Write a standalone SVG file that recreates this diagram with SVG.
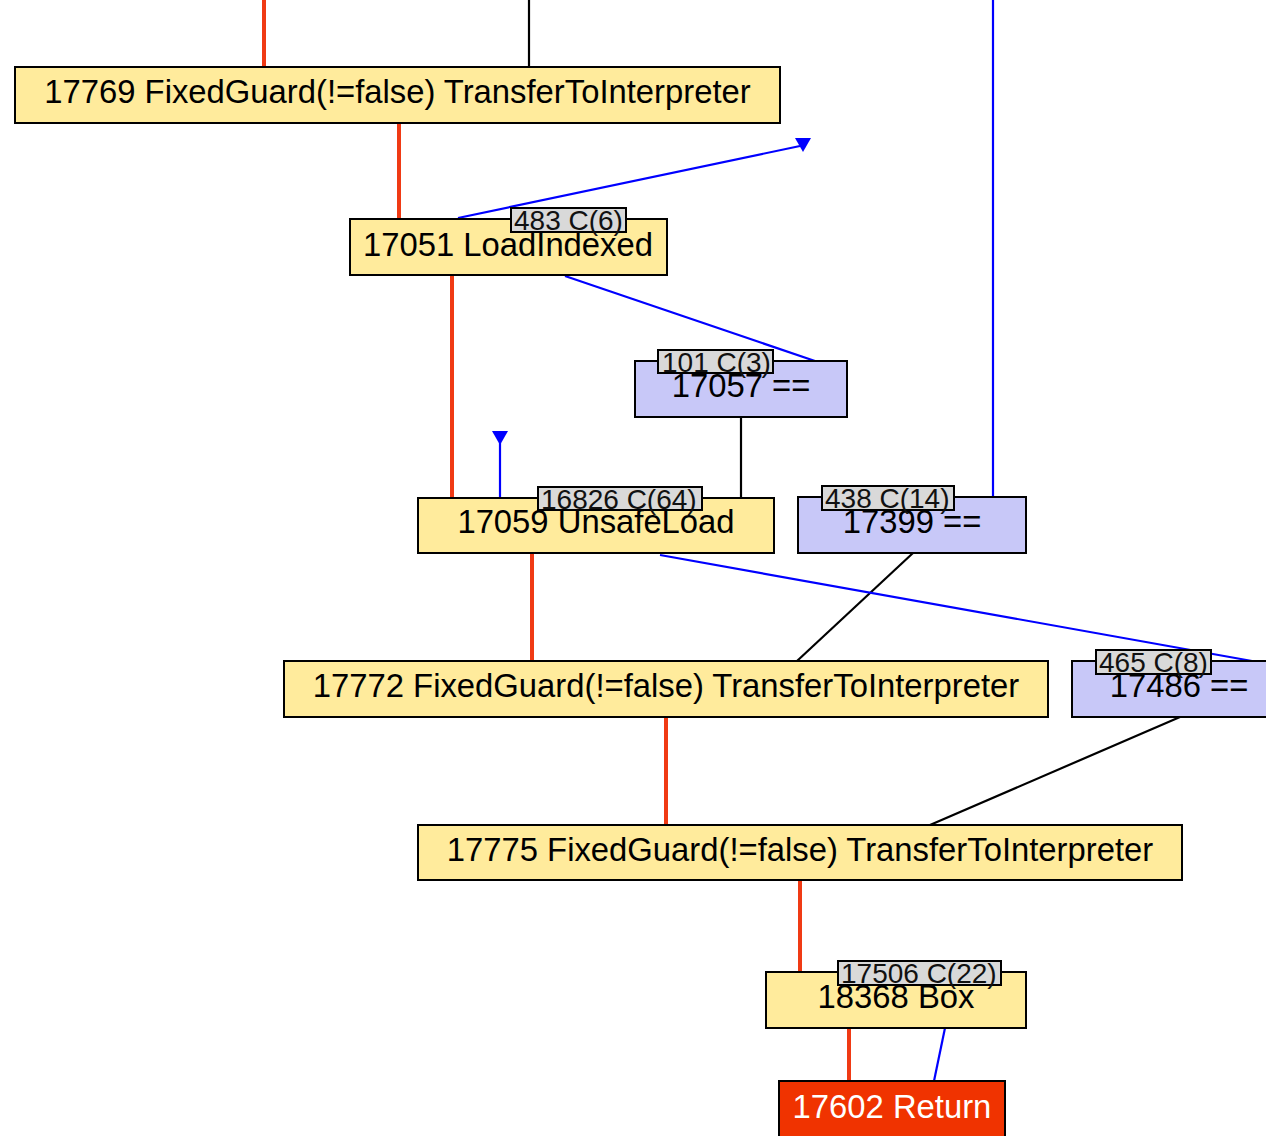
<svg xmlns="http://www.w3.org/2000/svg" width="1266" height="1136" viewBox="0 0 1266 1136">
  <style>
    .node rect.body { stroke: #000; stroke-width: 2; }
    .fixed rect.body { fill: #ffeb9c; }
    .cmp rect.body { fill: #c8c8f8; }
    .ret rect.body { fill: #f03300; }
    .node text.name { font-family: "Liberation Sans", Arial, sans-serif; font-size: 32.8px; fill: #000; text-anchor: middle; }
    .ret text.name { fill: #fff; }
    rect.tag { fill: #d9d9d9; stroke: #000; stroke-width: 2; }
    text.tag { font-family: "Liberation Sans", Arial, sans-serif; font-size: 28px; fill: #111; }
    .ctl { stroke: #f03a14; stroke-width: 4; fill: none; }
    .val { stroke: #0000ff; stroke-width: 2.2; fill: none; }
    .dep { stroke: #000; stroke-width: 2.2; fill: none; }
    .head { fill: #0000ff; }
  </style>

  <!-- connectors -->
  <g id="edges">
    <line class="ctl" x1="264" y1="0" x2="264" y2="67"/>
    <line class="dep" x1="529" y1="0" x2="529" y2="67"/>
    <line class="val" x1="993" y1="0" x2="993" y2="497"/>
    <line class="ctl" x1="399" y1="123" x2="399" y2="219"/>
    <line class="val" x1="458" y1="218" x2="800" y2="146"/>
    <polygon class="head" points="795,138 811,138 803,152"/>
    <line class="val" x1="565" y1="276" x2="815" y2="361"/>
    <line class="ctl" x1="452" y1="275" x2="452" y2="498"/>
    <line class="dep" x1="741" y1="417" x2="741" y2="498"/>
    <line class="val" x1="500" y1="497" x2="500" y2="442"/>
    <polygon class="head" points="492,431 508,431 500,445"/>
    <line class="ctl" x1="532" y1="553" x2="532" y2="661"/>
    <line class="dep" x1="913" y1="553" x2="797" y2="661"/>
    <line class="val" x1="660" y1="555" x2="1252" y2="661"/>
    <line class="ctl" x1="666" y1="717" x2="666" y2="825"/>
    <line class="dep" x1="1180" y1="717" x2="930" y2="825"/>
    <line class="ctl" x1="800" y1="880" x2="800" y2="972"/>
    <line class="ctl" x1="849" y1="1028" x2="849" y2="1081"/>
    <line class="val" x1="945" y1="1028" x2="934" y2="1081"/>
  </g>

  <g id="n17769" class="node fixed">
    <rect class="body" x="15" y="67" width="765" height="56"/>
    <text class="name" x="397.5" y="103">17769 FixedGuard(!=false) TransferToInterpreter</text>
  </g>

  <g id="n17051" class="node fixed">
    <rect class="body" x="350" y="219" width="317" height="56"/>
    <text class="name" x="508" y="256">17051 LoadIndexed</text>
    <rect class="tag" x="511" y="208" width="115" height="24"/>
    <text class="tag" x="514" y="230">483 C(6)</text>
  </g>

  <g id="n17057" class="node cmp">
    <rect class="body" x="635" y="361" width="212" height="56"/>
    <text class="name" x="741" y="397">17057 ==</text>
    <rect class="tag" x="658" y="350" width="115" height="23"/>
    <text class="tag" x="662" y="372">101 C(3)</text>
  </g>

  <g id="n17059" class="node fixed">
    <rect class="body" x="418" y="498" width="356" height="55"/>
    <text class="name" x="596" y="533">17059 UnsafeLoad</text>
    <rect class="tag" x="538" y="487" width="164" height="23"/>
    <text class="tag" x="541" y="509">16826 C(64)</text>
  </g>

  <g id="n17399" class="node cmp">
    <rect class="body" x="798" y="497" width="228" height="56"/>
    <text class="name" x="912" y="533">17399 ==</text>
    <rect class="tag" x="822" y="486" width="132" height="24"/>
    <text class="tag" x="825" y="508">438 C(14)</text>
  </g>

  <g id="n17772" class="node fixed">
    <rect class="body" x="284" y="661" width="764" height="56"/>
    <text class="name" x="666" y="697">17772 FixedGuard(!=false) TransferToInterpreter</text>
  </g>

  <g id="n17486" class="node cmp">
    <rect class="body" x="1072" y="661" width="214" height="56"/>
    <text class="name" x="1179" y="697">17486 ==</text>
    <rect class="tag" x="1096" y="650" width="115" height="24"/>
    <text class="tag" x="1099" y="672">465 C(8)</text>
  </g>

  <g id="n17775" class="node fixed">
    <rect class="body" x="418" y="825" width="764" height="55"/>
    <text class="name" x="800" y="861">17775 FixedGuard(!=false) TransferToInterpreter</text>
  </g>

  <g id="n18368" class="node fixed">
    <rect class="body" x="766" y="972" width="260" height="56"/>
    <text class="name" x="896" y="1008">18368 Box</text>
    <rect class="tag" x="838" y="961" width="163" height="24"/>
    <text class="tag" x="841" y="983">17506 C(22)</text>
  </g>

  <g id="n17602" class="node ret">
    <rect class="body" x="779" y="1081" width="226" height="60"/>
    <text class="name" x="892" y="1118">17602 Return</text>
  </g>
</svg>
